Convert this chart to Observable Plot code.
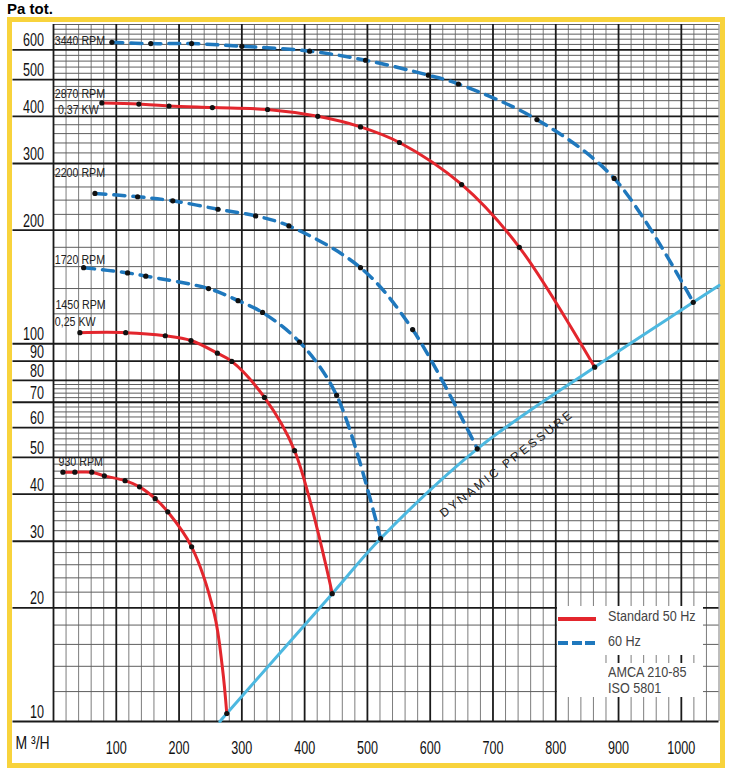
<!DOCTYPE html>
<html>
<head>
<meta charset="utf-8">
<script src="https://cdn.jsdelivr.net/npm/d3@7"></script>
<script src="https://cdn.jsdelivr.net/npm/@observablehq/plot@0.6"></script>
<style>
  body { margin: 0; background: #fff; }
  #wrap { position: relative; width: 731px; height: 776px; overflow: hidden; background: #fff; }
  #title { position: relative; height: 17px; font: bold 15px/17px 'Liberation Sans', Arial, sans-serif; padding-left: 7px; color: #000; z-index: 2; }
  #frame { position: absolute; left: 7px; top: 17px; width: 718px; height: 751px; box-sizing: border-box; border: 5px solid #f8d33c; z-index: 0; }
  #chart { position: relative; z-index: 1; }
  .lg { position: absolute; background: #fff; z-index: 3; }
  .lgt { position: absolute; z-index: 4; font: 15px/16px 'Liberation Sans', Arial, sans-serif; color: #444; white-space: nowrap; transform: scaleX(0.84); transform-origin: 0 50%; }
  .swatch { position: absolute; z-index: 4; }
</style>
</head>
<body>
<div id="wrap">
  <div id="frame"></div>
  <div id="title">Pa tot.</div>
  <div id="chart"></div>
  <div class="lg" style="left:557px;top:606px;width:46px;height:91px"></div>
  <div class="lg" style="left:603px;top:606px;width:100px;height:49px"></div>
  <div class="lg" style="left:603px;top:663px;width:100px;height:34px"></div>
  <div class="swatch" style="left:558px;top:617px;width:38px;height:3.5px;background:#e3262d"></div>
  <div class="swatch" style="left:558px;top:641px;width:41px;height:3.5px;background:repeating-linear-gradient(90deg,#1f78bd 0 10px,transparent 10px 13.5px)"></div>
  <div class="lgt" id="lg1" style="left:608px;top:608px"></div>
  <div class="lgt" id="lg2" style="left:608px;top:633px"></div>
  <div class="lgt" id="lg3" style="left:608px;top:664px"></div>
  <div class="lgt" id="lg4" style="left:608px;top:680px"></div>
</div>
<script>
// ---- data ----
const q3440 = [93, 155, 220, 300, 408, 497, 597, 645, 770, 893, 1019];
const p3440 = [628, 623, 623, 613, 595, 563, 514, 487, 392, 274, 128.7];
const q2870 = [77, 136, 184, 253, 341, 421, 489, 551, 650, 742, 862];
const p2870 = [434, 431, 426, 422, 417, 400, 375, 341, 264, 180, 86.7];
const q2200 = [66, 134, 190, 262, 322, 375, 489, 572, 675];
const p2200 = [250, 245, 239, 227, 218, 205, 159, 109, 52.7];
const q1720 = [48, 118, 147, 247, 294, 333, 392, 451, 521];
const p1720 = [159, 154, 151, 140, 130, 121, 101, 73, 30.5];
const q1450 = [42, 115, 178, 219, 261, 284, 336, 384, 444];
const p1450 = [107, 107, 105, 102, 94.4, 89.8, 72.1, 52.1, 21.8];
const q930 = [15, 34, 61, 81, 114, 137, 162, 182, 220, 276];
const p930 = [45.7, 45.7, 45.7, 44.7, 43.4, 41.8, 38.9, 35.9, 29, 10.5];
// points read along the 930 RPM curve between its last two dots (no dot drawn there)
const q930Path = [256, 269];
const p930Path = [19.3, 13.9];

const dynQ = [265, 276, 444, 521, 675, 862, 1019, 1060];
const dynP = [10, 10.5, 21.8, 30.5, 52.7, 86.7, 128.7, 142.7];

const seriesNames = ["3440 RPM", "2870 RPM", "2200 RPM", "1720 RPM", "1450 RPM", "930 RPM"];
const seriesFreq = ["60 Hz", "Standard 50 Hz", "60 Hz", "60 Hz", "Standard 50 Hz", "Standard 50 Hz"];
const seriesQ = [q3440, q2870, q2200, q1720, q1450, q930];
const seriesP = [p3440, p2870, p2200, p1720, p1450, p930];

const curveLabels = ["3440 RPM", "2870 RPM", "0,37 KW", "2200 RPM", "1720 RPM", "1450 RPM", "0,25 KW", "930 RPM"];
const curveLabelQ = [2, 2, 7, 2, 2, 3, 2, 8];
const curveLabelP = [632, 460, 415, 283, 167, 127, 114, 48.8];

const dynLabel = "DYNAMIC PRESSURE";
const dynLabelQ = [722];
const dynLabelP = [48.2];

const xTickLabels = [100, 200, 300, 400, 500, 600, 700, 800, 900, 1000];
const yTickLabels = [10, 20, 30, 40, 50, 60, 70, 80, 90, 100, 200, 300, 400, 500, 600];
const xUnit = "M ³/H";
const legendTexts = ["Standard 50 Hz", "60 Hz", "AMCA 210-85", "ISO 5801"];

// ---- grid positions ----
const majorX = d3.range(0, 1001, 100);
const minorX = d3.range(20, 1061, 20).filter(v => v % 100 !== 0);
const minorY = [].concat(
  d3.range(12, 80, 2).filter(v => v % 10 !== 0),
  d3.range(120, 701, 20).filter(v => v % 100 !== 0 || v === 700)
);

// ---- tables ----
const pts = [];
seriesNames.forEach((name, i) => {
  seriesQ[i].forEach((q, j) => pts.push({rpm: name, freq: seriesFreq[i], q, p: seriesP[i][j]}));
});
const path = pts.concat(q930Path.map((q, j) => ({rpm: "930 RPM", freq: "Standard 50 Hz", q, p: p930Path[j]})));
const paths = d3.sort(path, d => d.rpm, d => d.q);
const dyn = dynQ.map((q, i) => ({q, p: dynP[i]}));
const labels = curveLabels.map((t, i) => ({t, q: curveLabelQ[i], p: curveLabelP[i]}));
const dynLab = dynLabelQ.map((q, i) => ({t: dynLabel, q, p: dynLabelP[i]}));

const font = "'Liberation Sans', Arial, sans-serif";
const red = "#e3262d", blue = "#1f78bd", cyan = "#4cb8e0";

const chart = Plot.plot({
  width: 731,
  height: 759,
  marginTop: 7,
  marginBottom: 55,
  marginLeft: 53,
  marginRight: 12.5,
  x: {domain: [0, 1060], label: null},
  y: {type: "log", domain: [10, 700], label: null},
  style: {fontFamily: font, background: "transparent", overflow: "visible", color: "#111"},
  marks: [
    Plot.ruleX(minorX, {stroke: "#7d7d7d", strokeWidth: 1}),
    Plot.ruleY(minorY, {stroke: "#5e5e5e", strokeWidth: 1}),
    Plot.ruleX(majorX, {stroke: "#1a1a1a", strokeWidth: 1.8}),
    Plot.ruleY(yTickLabels, {stroke: "#1a1a1a", strokeWidth: 1.8}),
    Plot.axisY(yTickLabels, {tickSize: 40.5, stroke: "#1a1a1a", strokeWidth: 1.8, fill: "none", label: null}),
    Plot.axisY(yTickLabels, {tickSize: 0, tickPadding: 9.5, dy: -9, fontSize: 17.5, fill: "#111", label: null, tickFormat: d => String(d)}),
    Plot.axisX(xTickLabels, {tickSize: 0, tickPadding: 20, fontSize: 17.5, fill: "#111", label: null, tickFormat: d => String(d)}),
    Plot.line(dyn, {x: "q", y: "p", stroke: cyan, strokeWidth: 3, curve: "catmull-rom"}),
    Plot.line(paths.filter(d => d.freq !== "60 Hz"), {x: "q", y: "p", z: "rpm", stroke: red, strokeWidth: 3, curve: "catmull-rom"}),
    Plot.line(paths.filter(d => d.freq === "60 Hz"), {x: "q", y: "p", z: "rpm", stroke: blue, strokeWidth: 3.5, strokeDasharray: "11,8", curve: "catmull-rom"}),
    Plot.dot(pts, {x: "q", y: "p", r: 2.6, fill: "#111", stroke: null}),
    Plot.text(labels, {x: "q", y: "p", text: "t", textAnchor: "start", fontSize: 13, fill: "#222"}),
    Plot.text(dynLab, {x: "q", y: "p", text: "t", rotate: -38, fontSize: 12, fill: "#222"}),
    Plot.text([xUnit], {text: d => d, frameAnchor: "bottom-left", dx: -38, dy: 27, textAnchor: "start", fontSize: 17.5, fill: "#111"})
  ]
});
document.getElementById("chart").appendChild(chart);

// condense glyphs horizontally around each text's anchor (the reference uses a condensed face)
function squeeze(el, s) {
  const t = el.getAttribute("transform");
  if (t && t.includes("translate")) {
    el.setAttribute("transform", t + ` scale(${s},1)`);
  } else {
    const x = +el.getAttribute("x") || 0, y = +el.getAttribute("y") || 0;
    el.removeAttribute("x"); el.removeAttribute("y");
    el.setAttribute("transform", `translate(${x},${y}) scale(${s},1)` + (t ? " " + t : ""));
  }
}
const tickStrings = new Set(xTickLabels.concat(yTickLabels).map(String));
d3.select(chart).selectAll("text").each(function() {
  const s = this.textContent;
  if (s === dynLabel) this.setAttribute("letter-spacing", "2.6");
  else if (tickStrings.has(s)) squeeze(this, 0.72);
  else if (curveLabels.includes(s)) squeeze(this, 0.82);
  else if (s === xUnit) squeeze(this, 0.8);
});
["lg1", "lg2", "lg3", "lg4"].forEach((id, i) => { document.getElementById(id).textContent = legendTexts[i]; });
</script>
</body>
</html>
